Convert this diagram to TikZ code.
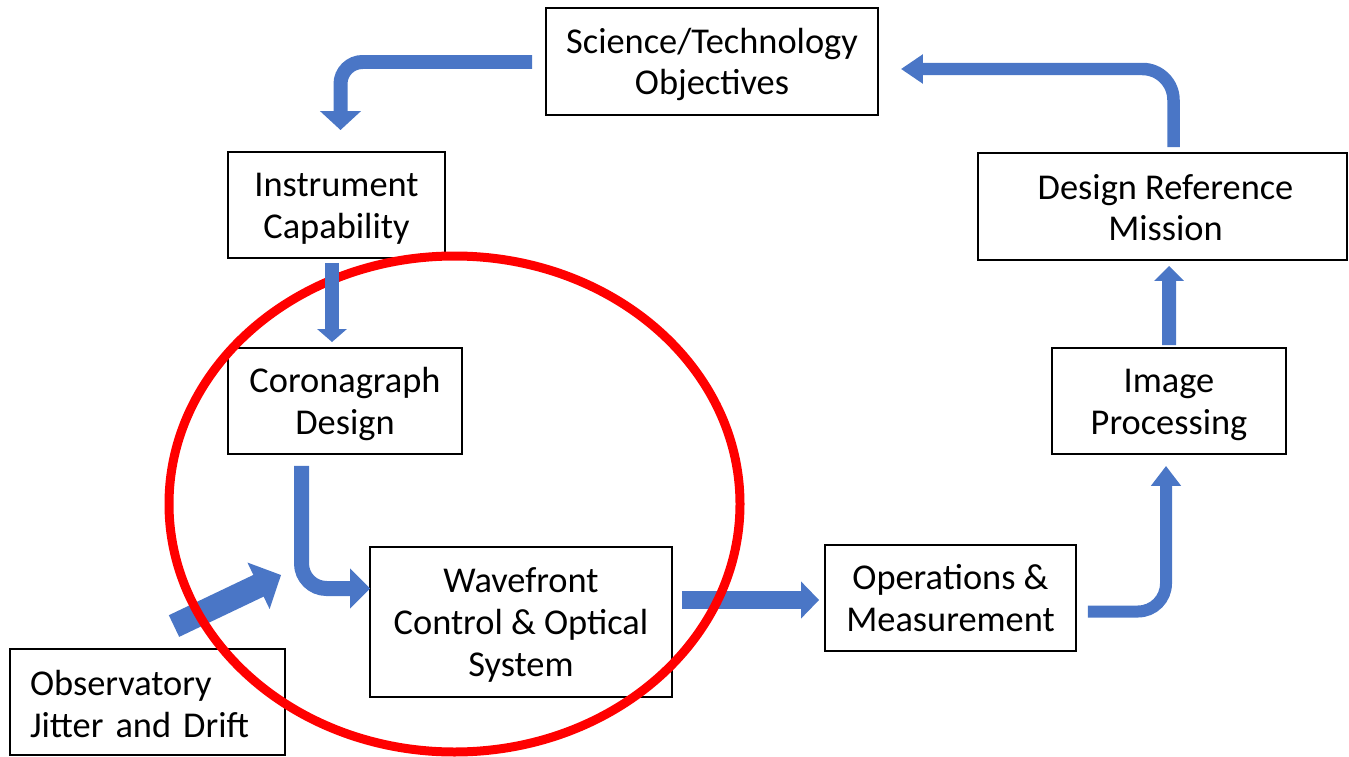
\documentclass[tikz,border=0pt]{standalone}
\usepackage{fontspec}
\setmainfont{Carlito}
\usetikzlibrary{arrows.meta,calc}
\definecolor{ablue}{HTML}{4A76C6}
\definecolor{ered}{HTML}{FF0000}
\newcommand\tstrut{\rule{0pt}{17.7pt}}
\begin{document}
\begin{tikzpicture}[x=0.02cm,y=-0.02cm,
  box/.style 2 args={draw=black, line width=1.1pt, align=center, inner sep=0pt,
    font=\fontsize{20.7}{23.8}\selectfont, minimum width=#1, minimum height=#2},
  barrow/.style n args={3}{draw=ablue, line width=#1, -{Triangle[width=#2, length=#3]}},
  ring/.style={draw=ered, line width=0.18cm}]
\useasboundingbox (0,0) rectangle (1349,757);

\node[box={6.64cm}{2.14cm}] (sci) at (712,61.5) {\tstrut Science/Technology\\Objectives};
\node[box={4.34cm}{2.12cm}] (inst) at (336.5,205) {\tstrut Instrument\\Capability};
\node[box={4.68cm}{2.12cm}] (coro) at (345,401) {\tstrut Coronagraph\\Design};
\node[box={6.04cm}{3.0cm}] (wave) at (521,622) {\tstrut Wavefront\\Control \& Optical\\System};
\node[box={5.5cm}{2.12cm}, align=left, text width=4.7cm] (jit) at (147.5,702) {\rule{0pt}{16.5pt}Observatory\\Jitter and Drift};
\node[box={5.02cm}{2.12cm}] (ops) at (950.5,598) {Operations \&\\Measurement};
\node[box={4.68cm}{2.12cm}] (img) at (1169,401) {\tstrut Image\\Processing};
\node[box={7.38cm}{2.14cm}] (drm) at (1162.5,206.5) {\rule{0pt}{15.5pt}\hspace*{0.12cm}Design Reference\\\hspace*{0.12cm}Mission};

\draw[barrow={0.28cm}{0.8cm}{0.38cm}, rounded corners=0.44cm]
  ($(sci.west)+(-13,0.5)$) -| ($(inst.north)+(4,-21)$);
\draw[barrow={0.25cm}{0.56cm}{0.44cm}, rounded corners=0.62cm]
  ($(drm.north)+(11,-5)$) |- ($(sci.east)+(22,7.5)$);
\draw[barrow={0.3cm}{0.78cm}{0.4cm}, rounded corners=0.5cm]
  ($(coro.south)+(-43.5,11)$) |- ($(wave.west)+(1,-33.5)$);
\draw[barrow={0.48cm}{1.0cm}{0.5cm}]
  ($(jit.north)+(26.5,-22)$) -- ($(wave.west)+(-88,-47)$);
\draw[barrow={0.36cm}{0.72cm}{0.36cm}]
  ($(wave.east)+(9,-22)$) -- ($(ops.west)+(-5,2)$);
\draw[barrow={0.24cm}{0.58cm}{0.4cm}, rounded corners=0.56cm]
  ($(ops.east)+(11,13.5)$) -| ($(img.south)+(-3,11)$);
\draw[barrow={0.28cm}{0.58cm}{0.3cm}]
  ($(img.north)+(0,-2)$) -- ($(drm.south)+(6.5,5)$);

\draw[ring] (454.5,504) ellipse [x radius=285.5, y radius=248];

\draw[barrow={0.28cm}{0.58cm}{0.26cm}]
  ($(inst.south)+(-4.5,4)$) -- ($(coro.north)+(-13,-5)$);
\end{tikzpicture}
\end{document}
